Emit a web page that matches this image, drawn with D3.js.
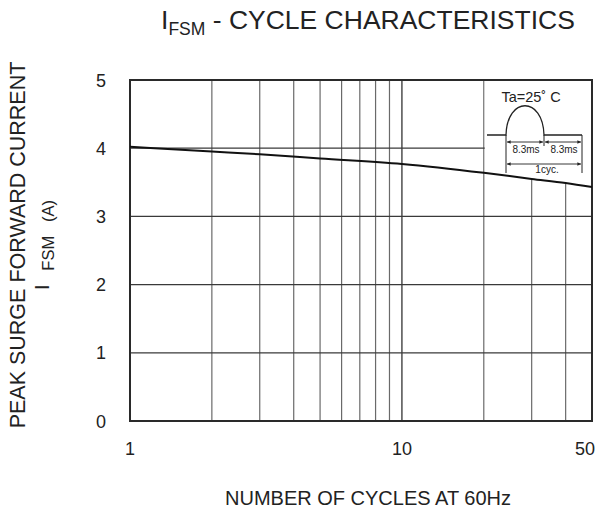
<!DOCTYPE html>
<html>
<head>
<meta charset="utf-8">
<script src="https://cdn.jsdelivr.net/npm/d3@7"></script>
<style>
  body { margin: 0; background: #fff; }
  svg { display: block; font-family: "Liberation Sans", Arial, sans-serif; }
</style>
</head>
<body>
<svg id="chart" width="599" height="514"></svg>
<script>
// ---- data ----
const cycles = [1, 2, 3, 5, 10, 20, 30, 40, 50];
const ifsm   = [4.02, 3.95, 3.91, 3.85, 3.77, 3.64, 3.55, 3.49, 3.43];
const xTickValues = [1, 10, 50];
const xGridValues = [2, 3, 4, 5, 6, 7, 8, 9, 10, 20, 30, 40];
const yTickValues = [0, 1, 2, 3, 4, 5];
const yGridValues = [1, 2, 3, 4];

const svg = d3.select("#chart");
const W = 599, H = 514;
const m = { left: 130, right: 7, top: 80, bottom: 93 };
const pw = W - m.left - m.right, ph = H - m.top - m.bottom;

const x = d3.scaleLog().domain([1, 50]).range([m.left, m.left + pw]);
const y = d3.scaleLinear().domain([0, 5]).range([m.top + ph, m.top]);

// grid
const g = svg.append("g");
g.selectAll("line.vg").data(xGridValues).join("line")
  .attr("x1", d => x(d)).attr("x2", d => x(d))
  .attr("y1", y(0)).attr("y2", y(5))
  .attr("stroke", d => d === 10 ? "#222" : "#6a6a6a")
  .attr("stroke-width", 1.2);
g.selectAll("line.hg").data(yGridValues).join("line")
  .attr("x1", x(1)).attr("x2", x(50))
  .attr("y1", d => y(d)).attr("y2", d => y(d))
  .attr("stroke", "#3a3a3a").attr("stroke-width", 1.2);

// white mask behind inset (area above curve for >= 20 cycles)
const pts = cycles.map((c, i) => ({ c, v: ifsm[i] }));
const maskPts = pts.filter(p => p.c >= 20);
svg.append("path")
  .datum(maskPts)
  .attr("fill", "#fff")
  .attr("d", d3.area().x(p => x(p.c) + (p.c === 20 ? 1 : 0)).y0(y(5)).y1(p => y(p.v)).curve(d3.curveMonotoneX));

// frame
svg.append("rect")
  .attr("x", m.left).attr("y", m.top).attr("width", pw).attr("height", ph)
  .attr("fill", "none").attr("stroke", "#2a2a2a").attr("stroke-width", 2);

// curve
svg.append("path")
  .datum(pts)
  .attr("fill", "none").attr("stroke", "#111").attr("stroke-width", 2)
  .attr("d", d3.line().x(p => x(p.c)).y(p => y(p.v)).curve(d3.curveMonotoneX));

// tick labels
svg.selectAll("text.xt").data(xTickValues).join("text")
  .attr("x", d => x(d) + (d === 50 ? -7 : 0)).attr("y", y(0) + 34)
  .attr("text-anchor", "middle").attr("font-size", 18).attr("fill", "#222")
  .text(d => d);
svg.selectAll("text.yt").data(yTickValues).join("text")
  .attr("x", m.left - 24).attr("y", d => y(d) + 6.5)
  .attr("text-anchor", "end").attr("font-size", 18).attr("fill", "#222")
  .text(d => d);

// title
const t = svg.append("text").attr("x", 161).attr("y", 29).attr("font-size", 26.5).attr("fill", "#222");
t.append("tspan").text("I");
t.append("tspan").attr("font-size", 17.5).attr("dy", 6).text("FSM");
t.append("tspan").attr("dy", -6).text(" - CYCLE CHARACTERISTICS");

// x axis title
svg.append("text").attr("x", 368).attr("y", 505).attr("text-anchor", "middle")
  .attr("font-size", 20).attr("fill", "#222").text("NUMBER OF CYCLES AT 60Hz");

// y axis title
svg.append("text").attr("transform", "translate(25,245) rotate(-90)")
  .attr("text-anchor", "middle").attr("font-size", 21.5).attr("fill", "#222")
  .text("PEAK SURGE FORWARD CURRENT");
const yt2 = svg.append("text").attr("transform", "translate(49,290) rotate(-90)")
  .attr("text-anchor", "start").attr("font-size", 20).attr("fill", "#222");
yt2.append("tspan").text("I");
yt2.append("tspan").attr("font-size", 16.5).attr("dy", 5).attr("xml:space", "preserve")
  .style("white-space", "pre").text("   FSM   (A)");

// inset waveform annotation (pixel-space, relative to plot's top-right corner)
const ix = x(50), iy = y(5);  // top-right corner of plot
const ins = svg.append("g").attr("transform", `translate(${ix},${iy})`);
const defs = svg.append("defs");
defs.append("marker").attr("id", "arr").attr("viewBox", "0 0 10 10")
  .attr("refX", 10).attr("refY", 5).attr("markerWidth", 6).attr("markerHeight", 4)
  .attr("orient", "auto-start-reverse")
  .append("path").attr("d", "M0,0 L10,5 L0,10 z").attr("fill", "#222");

ins.append("text").attr("x", -61).attr("y", 22).attr("text-anchor", "middle")
  .attr("font-size", 14.5).attr("fill", "#222").text("Ta=25\u02DA C");
// wave: flat, half-sine, flat
const wl = -105, ws = -86, we = -48, wr = -10, wb = 55, wp = 25;
ins.append("path").attr("d", `M${wl},${wb} L${ws},${wb} C${ws+1},${wp-9} ${we-1},${wp-9} ${we},${wb} L${wr},${wb}`)
  .attr("fill", "none").attr("stroke", "#222").attr("stroke-width", 1.3);
ins.append("line").attr("x1", ws).attr("x2", ws).attr("y1", wb).attr("y2", 93).attr("stroke", "#222").attr("stroke-width", 1);
ins.append("line").attr("x1", we).attr("x2", we).attr("y1", wb).attr("y2", 66).attr("stroke", "#222").attr("stroke-width", 1);
ins.append("line").attr("x1", wr).attr("x2", wr).attr("y1", wb).attr("y2", 93).attr("stroke", "#222").attr("stroke-width", 1);
[[ws, we], [we, wr]].forEach(([a, b]) => {
  ins.append("line").attr("x1", a + 1).attr("x2", b - 1).attr("y1", 62).attr("y2", 62)
    .attr("stroke", "#222").attr("stroke-width", 0.9)
    .attr("marker-start", "url(#arr)").attr("marker-end", "url(#arr)");
  ins.append("text").attr("x", (a + b) / 2 + 1).attr("y", 73).attr("text-anchor", "middle")
    .attr("font-size", 10).attr("fill", "#222").text("8.3ms");
});
ins.append("line").attr("x1", ws + 1).attr("x2", wr - 1).attr("y1", 84).attr("y2", 84)
  .attr("stroke", "#222").attr("stroke-width", 0.9)
  .attr("marker-start", "url(#arr)").attr("marker-end", "url(#arr)");
ins.append("text").attr("x", (ws + wr) / 2 + 3).attr("y", 93).attr("text-anchor", "middle")
  .attr("font-size", 10).attr("fill", "#222").text("1cyc.");
</script>
</body>
</html>
